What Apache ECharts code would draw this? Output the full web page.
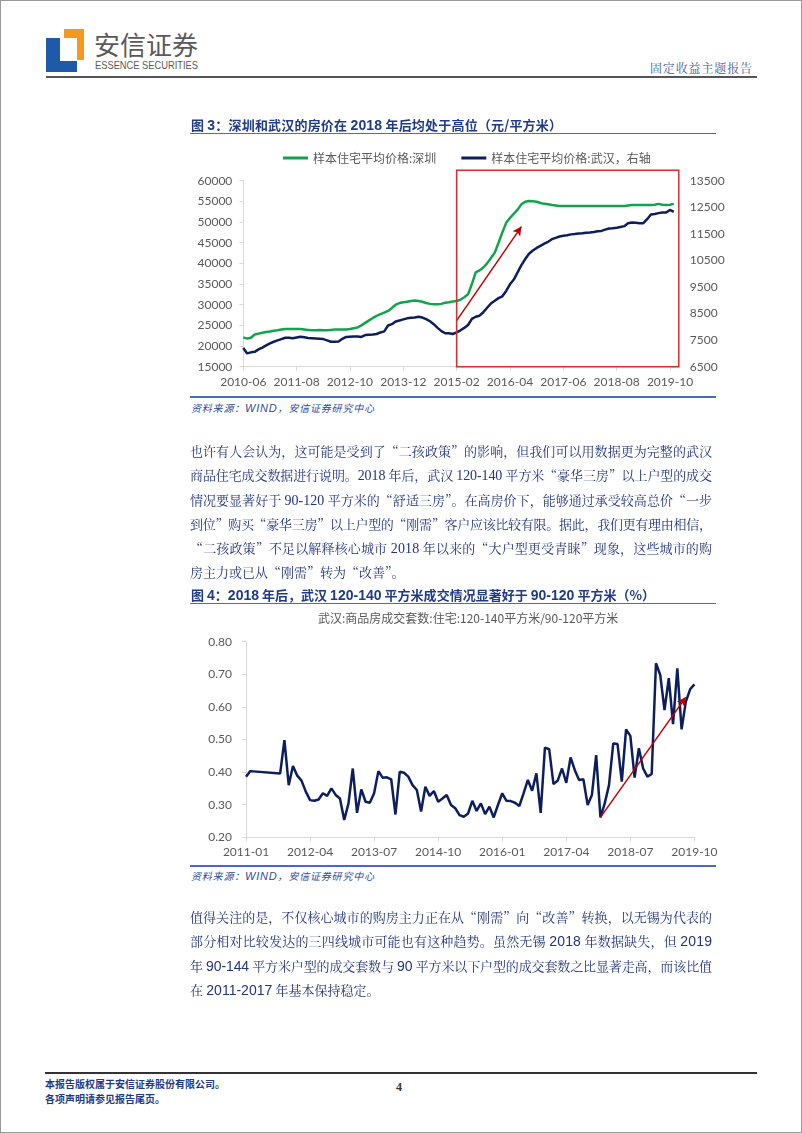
<!DOCTYPE html>
<html lang="zh-CN">
<head>
<meta charset="utf-8">
<script src="https://cdn.jsdelivr.net/npm/echarts/dist/echarts.min.js"></script>
<style>
  html, body { margin:0; padding:0; background:#fff; }
  body { width:802px; height:1133px; position:relative; overflow:hidden; }
  .abs { position:absolute; }
  .frame { left:0; top:0; width:800px; height:1131px; border:1px solid #9a9a9a; }
  .t { font-family:"Noto Serif CJK SC","Noto Sans CJK SC",sans-serif; color:#22357a; font-size:13px;
       white-space:nowrap; line-height:20px; height:20px; left:190px; z-index:2; }
  .n1 { font-family:"Liberation Serif","DejaVu Serif",serif; font-size:14px; }
  .n2 { font-family:"Liberation Sans",Arial,sans-serif; font-size:14px; }
  .title { font-family:"Noto Sans CJK SC",sans-serif; font-weight:700; color:#1f3a86; font-size:13px;
           white-space:nowrap; line-height:18px; left:191px; z-index:2; }
  .title b { font-family:"Liberation Sans",Arial,sans-serif; font-weight:700; font-size:14px; }
  .rule { background:#4a6cb8; height:1.5px; left:190px; width:526px; }
  .src { font-family:"Noto Sans CJK SC",sans-serif; font-style:italic; color:#2f4c9c; font-size:10px;
         white-space:nowrap; line-height:14px; left:191px; }
  .src b { font-family:"Liberation Sans",Arial,sans-serif; font-size:11px; font-weight:400; }
  .foot { font-family:"Noto Sans CJK SC",sans-serif; font-weight:700; color:#1f3a86; font-size:10px;
          white-space:nowrap; line-height:14px; left:45px; }
  #c { position:absolute; left:0; top:0; width:802px; height:1133px; z-index:1; }
</style>
</head>
<body>
<div class="abs frame"></div>

<!-- header -->
<div class="abs" style="left:46px;top:38px;width:14px;height:34px;background:#1e5aa8"></div>
<div class="abs" style="left:46px;top:61px;width:31px;height:11px;background:#1e5aa8"></div>
<div class="abs" style="left:64px;top:29px;width:20px;height:9px;background:#f29a1f"></div>
<div class="abs" style="left:77px;top:29px;width:7px;height:31px;background:#f29a1f"></div>
<div class="abs" style="left:94px;top:27px;font-family:'Noto Sans CJK SC',sans-serif;font-size:26px;line-height:34px;color:#5a5a5a;white-space:nowrap" data-w="104">安信证券</div>
<div class="abs" style="left:95px;top:59px;font-family:'Liberation Sans',Arial,sans-serif;font-size:11px;line-height:12px;color:#5a5a5a;white-space:nowrap" data-sx="103">ESSENCE SECURITIES</div>
<div class="abs" style="left:650px;top:61px;font-family:'Noto Serif CJK SC','Noto Sans CJK SC',sans-serif;font-size:12px;line-height:14px;color:#3f5a96;white-space:nowrap" data-w="102">固定收益主题报告</div>
<div class="abs" style="left:46px;top:76px;width:711px;height:2px;background:#555"></div>

<!-- figure 3 -->
<div class="abs title" style="top:116px" data-w="371">图 <b>3</b>：深圳和武汉的房价在 <b>2018</b> 年后均处于高位（元/平方米）</div>
<div class="abs rule" style="top:133px;height:1px"></div>
<div class="abs rule" style="top:396px"></div>
<div class="abs src" style="top:401px" data-w="183">资料来源：<b>WIND</b>，安信证券研究中心</div>

<!-- paragraph 1 -->
<div class="abs t" style="top:441px" data-w="522">也许有人会认为，这可能是受到了“二孩政策”的影响，但我们可以用数据更为完整的武汉</div>
<div class="abs t" style="top:465px" data-w="522">商品住宅成交数据进行说明。<span class="n1">2018</span> 年后，武汉 <span class="n1">120-140</span> 平方米“豪华三房”以上户型的成交</div>
<div class="abs t" style="top:490px" data-w="522">情况要显著好于 <span class="n1">90-120</span> 平方米的“舒适三房”。在高房价下，能够通过承受较高总价“一步</div>
<div class="abs t" style="top:514px" data-w="522">到位”购买“豪华三房”以上户型的“刚需”客户应该比较有限。据此，我们更有理由相信，</div>
<div class="abs t" style="top:538px" data-w="522">“二孩政策”不足以解释核心城市 <span class="n1">2018</span> 年以来的“大户型更受青睐”现象，这些城市的购</div>
<div class="abs t" style="top:562px">房主力或已从“刚需”转为“改善”。</div>

<!-- figure 4 -->
<div class="abs title" style="top:586px" data-w="464">图 <b>4</b>：<b>2018</b> 年后，武汉 <b>120-140</b> 平方米成交情况显著好于 <b>90-120</b> 平方米（%）</div>
<div class="abs rule" style="top:603px;height:1px"></div>
<div class="abs rule" style="top:865px"></div>
<div class="abs src" style="top:869px" data-w="183">资料来源：<b>WIND</b>，安信证券研究中心</div>

<!-- paragraph 2 -->
<div class="abs t" style="top:907px" data-w="522">值得关注的是，不仅核心城市的购房主力正在从“刚需”向“改善”转换，以无锡为代表的</div>
<div class="abs t" style="top:931px" data-w="522">部分相对比较发达的三四线城市可能也有这种趋势。虽然无锡 <span class="n2">2018</span> 年数据缺失，但 <span class="n2">2019</span></div>
<div class="abs t" style="top:956px" data-w="522">年 <span class="n2">90-144</span> 平方米户型的成交套数与 <span class="n2">90</span> 平方米以下户型的成交套数之比显著走高，而该比值</div>
<div class="abs t" style="top:980px">在 <span class="n2">2011-2017</span> 年基本保持稳定。</div>

<!-- footer -->
<div class="abs" style="left:45px;top:1072px;width:712px;height:1.5px;background:#333"></div>
<div class="abs foot" style="top:1077px">本报告版权属于安信证券股份有限公司。</div>
<div class="abs foot" style="top:1092px">各项声明请参见报告尾页。</div>
<div class="abs" style="left:396px;top:1080px;font-family:'Liberation Serif',serif;font-weight:700;font-size:12px;color:#333">4</div>

<div id="c"></div>

<script>
// ---------- data ----------
function monthLabels(y, m, n) {
  const out = [];
  for (let i = 0; i < n; i++) {
    out.push(y + '-' + (m < 10 ? '0' + m : '' + m));
    m++; if (m > 12) { m = 1; y++; }
  }
  return out;
}
const months1 = monthLabels(2010, 6, 114);   // 2010-06 .. 2019-11
const months2 = monthLabels(2011, 1, 106);   // 2011-01 .. 2019-10

const seriesName1 = '样本住宅平均价格:深圳';
const seriesName2 = '样本住宅平均价格:武汉，右轴';
const chart2Title = '武汉:商品房成交套数:住宅:120-140平方米/90-120平方米';

const shenzhen = [
  22100, 21800, 22000, 22800, 23000, 23200, 23400, 23500, 23700, 23800,
  24000, 24100, 24100, 24100, 24100, 24100, 24000, 23900, 23800, 23800,
  23900, 23800, 23800, 23900, 24000, 24000, 24000, 24000, 24100, 24300,
  24500, 25000, 25600, 26200, 26800, 27300, 27700, 28100, 28500, 29200,
  30000, 30400, 30600, 30700, 30900, 31000, 30900, 30700, 30400, 30200,
  30100, 30100, 30200, 30500, 30600, 30800, 30900, 31200, 31800, 32500,
  35000, 37800, 38300, 39000, 40000, 41300, 42600, 45000, 47500, 49800,
  51000, 52000, 53000, 54300, 54900, 55100, 55000, 54900, 54600, 54400,
  54300, 54100, 54000, 53900, 53900, 53900, 53900, 53900, 53900, 53900,
  53900, 53900, 53900, 53900, 53900, 53900, 53900, 53900, 53900, 53900,
  53900, 54000, 54100, 54100, 54100, 54100, 54100, 54100, 54200, 54400,
  54200, 54100, 54200, 54400
];
const wuhan = [
  7200, 7000, 7040, 7060, 7150, 7220, 7300, 7380, 7440, 7490,
  7540, 7590, 7590, 7570, 7600, 7630, 7610, 7580, 7570, 7560,
  7550, 7540, 7490, 7440, 7440, 7450, 7550, 7620, 7630, 7640,
  7640, 7620, 7690, 7700, 7710, 7730, 7790, 7830, 8050, 8100,
  8200, 8240, 8280, 8320, 8340, 8350, 8380, 8350, 8290, 8210,
  8100, 7960, 7840, 7760, 7760, 7730, 7790, 7870, 7960, 8070,
  8300, 8380, 8420, 8550, 8720, 8880, 8980, 9080, 9150, 9350,
  9600, 9780, 10050, 10320, 10550, 10750, 10870, 10970, 11050, 11130,
  11200, 11300, 11350, 11400, 11430, 11450, 11480, 11490, 11510, 11520,
  11540, 11550, 11570, 11600, 11610, 11660, 11700, 11710, 11730, 11760,
  11790, 11900, 11930, 11920, 11900, 11900, 12050, 12230, 12250, 12280,
  12300, 12300, 12400, 12330
];
const ratio = [
  0.386, 0.403, null, null, null, null, null, null, 0.396, 0.498,
  0.360, 0.419, 0.389, 0.374, 0.340, 0.314, 0.312, 0.316, 0.335, 0.327,
  0.350, 0.330, 0.319, 0.253, 0.304, 0.411, 0.275, 0.347, 0.309, 0.306,
  0.335, 0.403, 0.383, 0.384, 0.378, 0.270, 0.401, 0.398, 0.386, 0.360,
  0.345, 0.279, 0.355, 0.327, 0.342, 0.309, 0.319, 0.330, 0.299, 0.289,
  0.268, 0.263, 0.273, 0.312, 0.281, 0.304, 0.271, 0.294, 0.261, 0.299,
  0.335, 0.312, 0.311, 0.306, 0.296, 0.335, 0.376, 0.343, 0.396, 0.275,
  0.475, 0.470, 0.363, 0.374, 0.411, 0.367, 0.445, 0.406, 0.376, 0.378,
  0.299, 0.330, 0.452, 0.261, 0.304, 0.360, 0.488, 0.486, 0.371, 0.531,
  0.511, 0.383, 0.473, 0.411, 0.386, 0.394, 0.734, 0.698, 0.590, 0.688,
  0.547, 0.718, 0.531, 0.616, 0.654, 0.669
];

// annotations (data coordinates)
const arrow1 = [['2015-02', 26150], ['2016-07', 48900]];
const arrow2 = [['2017-12', 0.261], ['2019-08', 0.630]];
const box1 = { from: '2015-02', to: '2019-11', top: 62500, bottom: 15000 };

// ---------- text justification ----------
document.querySelectorAll('[data-w]').forEach(el => {
  const target = +el.dataset.w;
  const n = Array.from(el.textContent).length;
  const nat = el.getBoundingClientRect().width;
  if (n > 1) el.style.letterSpacing = ((target - nat) / (n - 1)) + 'px';
});
document.querySelectorAll('[data-sx]').forEach(el => {
  const target = +el.dataset.sx;
  const nat = el.getBoundingClientRect().width;
  el.style.transformOrigin = '0 0';
  el.style.transform = 'scaleX(' + (target / nat) + ')';
});

// ---------- chart ----------
const GREEN = '#12a44c', NAVY = '#0c1f5c', RED = '#c00000', AX = '#d9d9d9', LBL = '#595959';
const FONT = 'Lato, "Noto Sans", sans-serif';
const chart = echarts.init(document.getElementById('c'), null, { renderer: 'canvas' });

function xAxisCfg(grid, data, every) {
  return {
    gridIndex: grid, type: 'category', data: data, boundaryGap: false,
    axisLine: { lineStyle: { color: AX, width: 1 } },
    axisTick: { show: true, interval: every, length: 4, lineStyle: { color: AX } },
    axisLabel: { interval: every, color: LBL, fontSize: 12, margin: 9, fontFamily: FONT }
  };
}
function yAxisCfg(grid, min, max, step, opts) {
  return Object.assign({
    gridIndex: grid, type: 'value', min: min, max: max, interval: step,
    axisLine: { show: true, lineStyle: { color: AX } },
    axisTick: { show: true, length: 4, lineStyle: { color: AX } },
    splitLine: { show: false },
    axisLabel: { color: LBL, fontSize: 12, margin: 11, fontFamily: FONT, formatter: v => String(v) }
  }, opts || {});
}

chart.setOption({
  animation: false,
  textStyle: { fontFamily: FONT },
  legend: {
    data: [seriesName1, seriesName2], left: 278, top: 147, icon: 'rect',
    itemWidth: 25, itemHeight: 3, itemGap: 25,
    textStyle: { color: LBL, fontSize: 12, fontFamily: '"Noto Sans CJK SC", sans-serif' }
  },
  title: {
    text: chart2Title, left: 313, top: 607,
    textStyle: { color: LBL, fontSize: 12, fontWeight: 'normal', fontFamily: '"Noto Sans CJK SC", sans-serif' }
  },
  grid: [
    { left: 243.3, top: 180.7, width: 430.5, height: 186 },
    { left: 246, top: 641.7, width: 448.4, height: 195.6 }
  ],
  xAxis: [ xAxisCfg(0, months1, 13), xAxisCfg(1, months2, 14) ],
  yAxis: [
    yAxisCfg(0, 15000, 60000, 5000),
    yAxisCfg(0, 6500, 13500, 1000, {
      position: 'right', axisLine: { show: false }, axisTick: { show: false },
      axisLabel: { color: LBL, fontSize: 12, margin: 16, fontFamily: FONT, formatter: v => String(v) }
    }),
    yAxisCfg(1, 0.2, 0.8, 0.1, {
      axisLabel: { color: LBL, fontSize: 12, margin: 14, fontFamily: FONT,
                   formatter: v => v.toFixed(2) }
    })
  ],
  series: [
    {
      name: seriesName1, type: 'line', xAxisIndex: 0, yAxisIndex: 0, data: shenzhen,
      showSymbol: false, symbol: 'none', lineStyle: { color: GREEN, width: 2.5 }, itemStyle: { color: GREEN },
      markLine: {
        silent: true, symbol: ['none', 'arrow'], symbolSize: [7, 9], label: { show: false },
        lineStyle: { color: RED, width: 1.5, type: 'solid' },
        data: [[{ coord: arrow1[0] }, { coord: arrow1[1] }]]
      }
    },
    {
      name: seriesName2, type: 'line', xAxisIndex: 0, yAxisIndex: 1, data: wuhan,
      showSymbol: false, symbol: 'none', lineStyle: { color: NAVY, width: 2.5 }, itemStyle: { color: NAVY }
    },
    {
      name: chart2Title, type: 'line', xAxisIndex: 1, yAxisIndex: 2, data: ratio, connectNulls: true,
      showSymbol: false, symbol: 'none', lineStyle: { color: NAVY, width: 2.5 }, itemStyle: { color: NAVY },
      markLine: {
        silent: true, symbol: ['none', 'arrow'], symbolSize: [7, 9], label: { show: false },
        lineStyle: { color: RED, width: 1.5, type: 'solid' },
        data: [[{ coord: arrow2[0] }, { coord: arrow2[1] }]]
      }
    }
  ]
});

// red highlight box located through the axes' own scales
const iFrom = months1.indexOf(box1.from), iTo = months1.indexOf(box1.to);
const pA = chart.convertToPixel({ xAxisIndex: 0, yAxisIndex: 0 }, [iFrom, box1.top]);
const pB = chart.convertToPixel({ xAxisIndex: 0, yAxisIndex: 0 }, [iTo, box1.bottom]);
chart.setOption({
  graphic: [{
    type: 'rect', silent: true, z: 5,
    shape: { x: pA[0], y: pA[1], width: pB[0] - pA[0] + 5, height: pB[1] - pA[1] },
    style: { fill: 'none', stroke: '#dc2a2f', lineWidth: 1.5 }
  }]
});
</script>
</body>
</html>
